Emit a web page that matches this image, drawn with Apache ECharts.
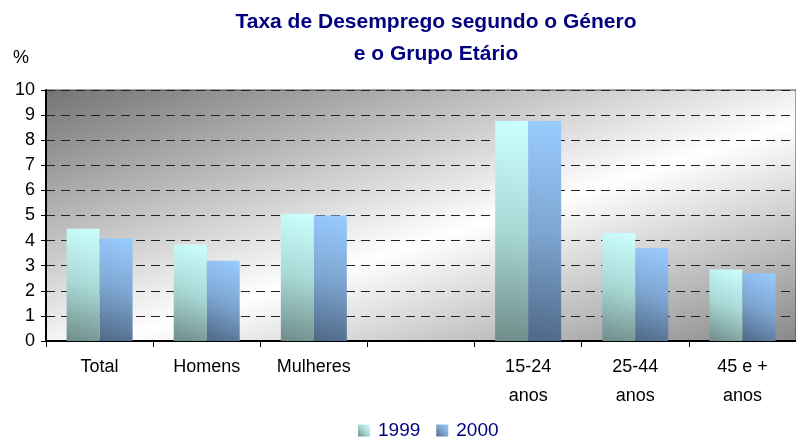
<!DOCTYPE html>
<html>
<head>
<meta charset="utf-8">
<script src="https://cdn.jsdelivr.net/npm/echarts@6/dist/echarts.min.js"></script>
<style>
  html, body { margin: 0; padding: 0; background: #fff; }
  #chart { width: 796px; height: 437px; }
</style>
</head>
<body>
<div id="chart"></div>
<script>
// categories along the x axis (blank slot between groups)
const categories = ['Total', 'Homens', 'Mulheres', '', '15-24\nanos', '25-44\nanos', '45 e +\nanos']
const yTicks = [0, 1, 2, 3, 4, 5, 6, 7, 8, 9, 10]
const seriesNames = ['1999', '2000']
const values1999 = [4.47, 3.84, 5.07, null, 8.76, 4.3, 2.85]
const values2000 = [4.08, 3.2, 5.0, null, 8.76, 3.7, 2.7]

const chart = echarts.init(document.getElementById('chart'))

const grad1999 = new echarts.graphic.LinearGradient(0, 1, 1, 0, [
  { offset: 0, color: '#6f8c89' },
  { offset: 0.5, color: '#a9d9d5' },
  { offset: 1, color: '#ccffff' }
])
const grad2000 = new echarts.graphic.LinearGradient(0, 1, 1, 0, [
  { offset: 0, color: '#4f6886' },
  { offset: 0.5, color: '#7ea6d2' },
  { offset: 1, color: '#99ccff' }
])

chart.setOption({
  animation: false,
  textStyle: { fontFamily: 'Liberation Sans' },
  title: {
    text: 'Taxa de Desemprego segundo o Género\ne o Grupo Etário',
    left: 431,
    top: 1,
    textAlign: 'center',
    textStyle: {
      color: '#000080',
      fontSize: 21,
      fontWeight: 'bold',
      lineHeight: 32,
      fontFamily: 'Liberation Sans'
    }
  },
  graphic: [{
    type: 'text',
    left: 13,
    top: 49,
    style: { text: '%', fontSize: 18, fill: '#000', fontFamily: 'Liberation Sans' }
  }],
  legend: {
    data: seriesNames,
    top: 416,
    left: 353,
    itemWidth: 12,
    itemHeight: 12,
    itemGap: 16,
    icon: 'rect',
    textStyle: { color: '#000080', fontSize: 19, padding: [0, 0, 0, 3] }
  },
  grid: {
    left: 46,
    right: 0,
    top: 90,
    bottom: 96,
    show: true,
    borderColor: '#444',
    borderWidth: 1,
    backgroundColor: new echarts.graphic.LinearGradient(340, 0, 479, 436, [
      { offset: 0, color: '#767676' },
      { offset: 0.56, color: '#ffffff' },
      { offset: 1, color: '#8c8c8c' }
    ], true)
  },
  xAxis: {
    type: 'category',
    data: categories,
    axisLine: { lineStyle: { color: '#000', width: 2 } },
    axisTick: { show: true, length: 6, lineStyle: { color: '#000' } },
    axisLabel: {
      color: '#000',
      fontSize: 18,
      lineHeight: 29,
      margin: 12
    }
  },
  yAxis: {
    type: 'value',
    min: 0,
    max: 10,
    interval: 1,
    axisLine: { show: true, lineStyle: { color: '#000', width: 2 } },
    axisTick: { show: true, length: 5, lineStyle: { color: '#000' } },
    axisLabel: {
      color: '#000',
      fontSize: 18,
      margin: 11,
      formatter: v => (yTicks.includes(v) ? String(v) : '')
    },
    splitLine: {
      show: true,
      lineStyle: { color: '#222', type: [9, 6], width: 1 }
    }
  },
  series: [
    {
      name: seriesNames[0],
      type: 'bar',
      data: values1999,
      barWidth: 33,
      barGap: '0%',
      itemStyle: { color: grad1999 }
    },
    {
      name: seriesNames[1],
      type: 'bar',
      data: values2000,
      barWidth: 33,
      barGap: '0%',
      itemStyle: { color: grad2000 }
    }
  ]
})
</script>
</body>
</html>
